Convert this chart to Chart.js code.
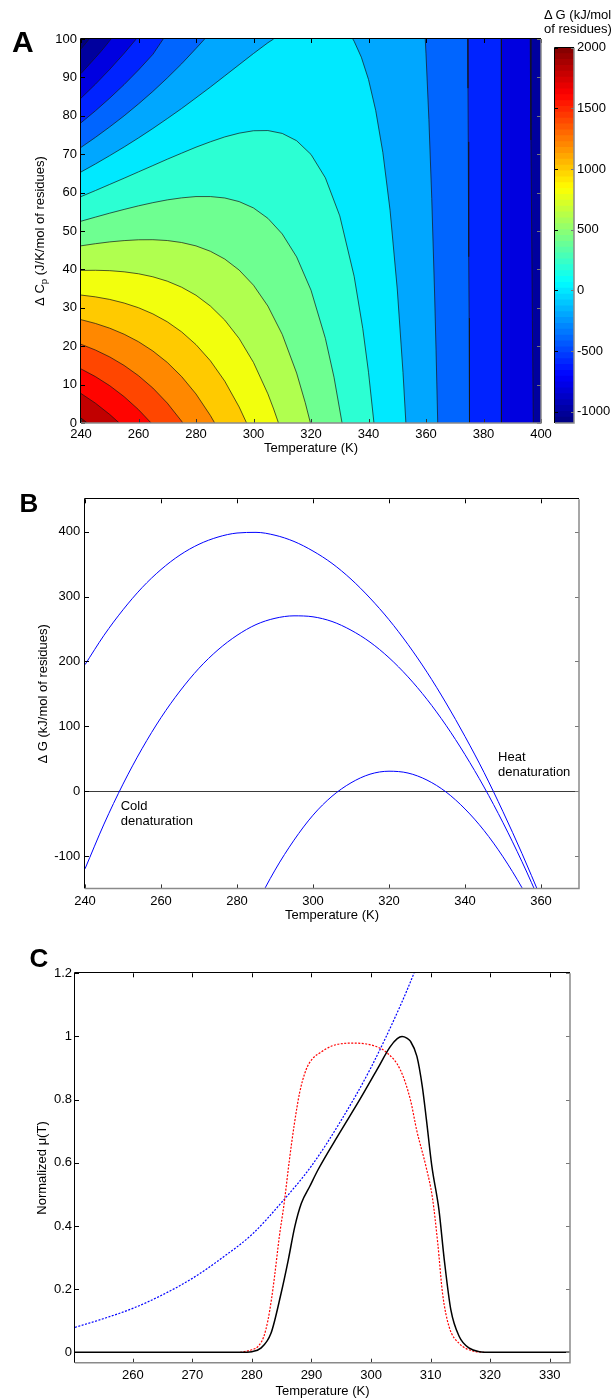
<!DOCTYPE html>
<html>
<head>
<meta charset="utf-8">
<script src="https://cdn.jsdelivr.net/npm/chart.js@4.4.1/dist/chart.umd.min.js"></script>
<style>
  body { margin: 0; background: #fff; }
  #page { position: relative; width: 614px; height: 1399px; overflow: hidden; background: #fff; }
  canvas { position: absolute; }
  .cbtitle { position: absolute; left: 544px; top: 8px; font: 13px 'Liberation Sans', Arial, sans-serif; line-height: 14px; color: #000; white-space: nowrap; }
</style>
</head>
<body>
<div id="page">
  <canvas id="cvA" width="614" height="460" style="left:0px;top:0px"></canvas>
  <canvas id="cvCb" width="69" height="460" style="left:545px;top:0px"></canvas>
  <canvas id="cvB" width="614" height="460" style="left:0px;top:470px"></canvas>
  <canvas id="cvC" width="614" height="464" style="left:0px;top:935px"></canvas>
  <div class="cbtitle">Δ G (kJ/mol<br>of residues)</div>
</div>
<script>
// ---- panel A : contour levels (kJ/mol) and their contour lines [T, dCp] ----
var aTempRange = [240, 400];
var aCpRange = [0, 100];
var aColorRange = [-1093, 2000];
var aTempTicks = [240, 260, 280, 300, 320, 340, 360, 380, 400];
var aCpTicks = [0, 10, 20, 30, 40, 50, 60, 70, 80, 90, 100];
var aColorTicks = [-1000, -500, 0, 500, 1000, 1500, 2000];
var aLevels = [-1000, -800, -600, -400, -200, 0, 200, 400, 600, 800, 1000, 1200, 1400, 1600, 1800, 2000];
// piece starting on the left edge
var aContourLeft = [
  [[240,97.42],[241,98.33],[242,99.23],[242.85,100]],
  [[240,91.01],[245,95.14],[247,96.83],[249,98.64],[250,99.59],[250.45,100]],
  [[240,84.6],[245,88.21],[250,92.1],[255,96.26],[259.2,100]],
  [[240,78.19],[245,81.29],[250,84.61],[255,88.13],[260,91.93],[265,96.01],[268.6,100]],
  [[240,71.78],[245,74.37],[250,77.12],[255,80],[260,83.09],[265,86.35],[270,89.85],[275,93.54],[280,97.54],[283,100]],
  [[240,65.37],[245,67.45],[250,69.63],[255,71.88],[260,74.24],[265,76.7],[270,79.27],[275,81.9],[280,84.68],[285,87.48],[290,90.39],[295,93.31],[300,96.22],[305,99.02],[307,100]],
  [[240,58.96],[245,60.53],[250,62.14],[255,63.75],[260,65.4],[265,67.04],[270,68.69],[275,70.27],[280,71.83],[285,73.23],[290,74.5],[295,75.48],[300,76.11],[305,76.16],[310,75.41],[315,73.51],[320,69.94],[325,63.84],[330,53.94],[335,38.21],[338,24.63],[340,13.21],[341.9,0]],
  [[240,52.55],[245,53.61],[250,54.65],[255,55.62],[260,56.55],[265,57.38],[270,58.1],[275,58.63],[280,58.97],[285,58.97],[290,58.6],[295,57.66],[300,56],[305,53.3],[310,49.23],[315,43.25],[320,34.59],[325,22.03],[328,11.92],[330.8,0]],
  [[240,46.14],[245,46.69],[250,47.16],[255,47.5],[260,47.71],[265,47.73],[270,47.52],[275,47],[280,46.12],[285,44.72],[290,42.7],[295,39.83],[300,35.88],[305,30.45],[310,23.06],[315,13],[318,5.28],[319.8,0]],
  [[240,39.73],[245,39.77],[250,39.67],[255,39.37],[260,38.86],[265,38.07],[270,36.94],[275,35.36],[280,33.27],[285,30.46],[290,26.8],[295,22.01],[300,15.76],[305,7.59],[307,3.65],[308.7,0]],
  [[240,33.32],[245,32.85],[250,32.18],[255,31.24],[260,30.02],[265,28.41],[270,26.36],[275,23.73],[280,20.41],[285,16.21],[290,10.9],[295,4.18],[297.6,0]],
  [[240,26.91],[245,25.93],[250,24.69],[255,23.12],[260,21.17],[265,18.75],[270,15.78],[275,12.09],[280,7.56],[285,1.95],[286.5,0]],
  [[240,20.5],[245,19.01],[250,17.2],[255,14.99],[260,12.32],[265,9.1],[270,5.19],[275,0.46],[275.4,0]],
  [[240,14.09],[245,12.09],[250,9.71],[255,6.86],[260,3.48],[264.4,0]],
  [[240,7.68],[245,5.17],[250,2.22],[253.3,0]],
  [[240,1.27],[241,0.7],[242.2,0]]
];
// piece coming down from the top edge on the right (negative levels)
var aContourRight = [
  null,
  [[396.25,100],[396.5,73.7],[397,26.7],[397.32,0]],
  [[386.2,100],[386.24,0]],
  [[374.51,100],[374.6,87.2],[374.7,73.2],[374.8,58.6],[374.9,43.3],[375,27.3],[375.1,10.6],[375.16,0]],
  [[359.74,100],[360,96.14],[361,79.09],[362,58.43],[363,33.33],[363.5,18.8],[364.08,0]],
  [[334.55,100],[335,99.41],[337.5,95.27],[340,89.46],[342.5,81.41],[345,70.4],[347.5,55.39],[350,34.9],[352,13.16],[353,0]],
  null, null, null, null, null, null, null, null, null, null
];

// ---- panel B : dG(T) for three curves ----
var bTempRange = [240, 370];
var bDgRange = [-150, 450];
var bTempTicks = [240, 260, 280, 300, 320, 340, 360];
var bDgTicks = [-100, 0, 100, 200, 300, 400];
var bTemps = [240,245,250,255,260,265,270,275,280,285,290,295,300,305,310,315,320,325,330,335,340,345,350,355,360];
var bCurveTop = [195,240.3,279.6,313.7,341.7,364.1,380.7,391.8,398,399,394.6,385,370.2,351.2,326.9,297.7,264.3,226.1,183.4,135.9,84.3,28.9,-31.8,-96.3,-165];
var bCurveMid = [-119.8,-50.8,10.8,65.4,113.3,154.4,189.5,217.9,240.2,256.8,266.5,270.3,268.8,261.6,248.2,229.8,205.7,176.2,141.5,101.5,56.3,6.4,-48.7,-108.9,-174];
var bTempsLow = [280,285,290,295,300,305,310,315,320,325,330,335,340,345,350,355,360];
var bCurveLow = [-240.3,-176.8,-121.8,-75.6,-37.1,-7.9,12.8,26.1,30.7,27.9,17,-1.3,-27.5,-60.7,-101.3,-149,-204.2];

// ---- panel C : normalized mu(T) ----
var cTempRange = [250.3, 333.4];
var cMuRange = [-0.033, 1.2];
var cTempTicks = [260, 270, 280, 290, 300, 310, 320, 330];
var cMuTicks = [0, 0.2, 0.4, 0.6, 0.8, 1, 1.2];
var cTempBlack = [250.3,278,280,281.5,283.2,284.9,286.1,287.2,288.3,289.7,291.1,294.7,298.1,301,303.2,304.4,305.2,306,306.6,307.7,308.6,309.3,310.2,311.4,312.3,313.4,314.8,316.5,318.2,320,333.4];
var cMuBlack = [0,0,0.002,0.013,0.06,0.187,0.292,0.398,0.472,0.525,0.578,0.694,0.8,0.895,0.967,0.993,1,0.995,0.985,0.937,0.842,0.736,0.59,0.451,0.292,0.134,0.05,0.013,0.002,0,0];
var cTempRed = [278,279,280,281,282,282.7,283.3,283.8,284.6,285.4,286.3,287.1,288,289.1,290.2,291.4,293.6,297,300.4,302.7,304.9,306.6,307.7,309.2,310.3,311.2,312,313.1,314.8,317.1,319];
var cMuRed = [0,0.003,0.008,0.018,0.05,0.102,0.17,0.24,0.366,0.47,0.61,0.72,0.821,0.895,0.93,0.948,0.971,0.979,0.971,0.948,0.895,0.8,0.7,0.59,0.49,0.345,0.187,0.081,0.028,0.004,0];
var cTempBlue = [250.3,255,260,265,270,275,280,285,290,295,300,305,307.2,310];
var cMuBlue = [0.079,0.106,0.139,0.182,0.234,0.299,0.373,0.475,0.59,0.735,0.902,1.101,1.2,1.335];

var FAM = "'Liberation Sans', Arial, Helvetica, sans-serif";
Chart.defaults.font.family = FAM;
Chart.defaults.font.size = 13;
Chart.defaults.color = '#000';

function jet(t) {
  var c = function (v) { return Math.round(255 * Math.max(0, Math.min(1, v))); };
  return 'rgb(' + c(1.5 - Math.abs(4 * t - 3)) + ',' + c(1.5 - Math.abs(4 * t - 2)) + ',' + c(1.5 - Math.abs(4 * t - 1)) + ')';
}
function levelColor(v) { return jet((v - aColorRange[0]) / (aColorRange[1] - aColorRange[0])); }
function pts(arr) { return arr.map(function (p) { return {x: p[0], y: p[1]}; }); }
function zip(xs, ys) { return xs.map(function (x, i) { return {x: x, y: ys[i]}; }); }

// inner ticks + matlab-like frame
function boxPlugin(o) {
  return {
    id: 'box',
    afterDatasetsDraw: function (chart) {
      var ctx = chart.ctx, a = chart.chartArea, L = o.tickLen;
      var xs = chart.scales.x, ys = chart.scales.y;
      var snap = function (v) { return Math.round(v) + 0.5; };
      ctx.save();
      ctx.lineWidth = 1;
      if (o.xTicks) {
        xs.ticks.forEach(function (t) {
          var p = snap(xs.getPixelForValue(t.value));
          ctx.strokeStyle = '#000';
          ctx.beginPath(); ctx.moveTo(p, a.top); ctx.lineTo(p, a.top + L); ctx.stroke();
          ctx.strokeStyle = '#333';
          ctx.beginPath(); ctx.moveTo(p, a.bottom); ctx.lineTo(p, a.bottom - L); ctx.stroke();
        });
      }
      ys.ticks.forEach(function (t) {
        var p = snap(ys.getPixelForValue(t.value));
        ctx.strokeStyle = '#000';
        ctx.beginPath(); ctx.moveTo(a.left, p); ctx.lineTo(a.left + L, p); ctx.stroke();
        ctx.strokeStyle = '#777';
        ctx.beginPath(); ctx.moveTo(a.right, p); ctx.lineTo(a.right - L, p); ctx.stroke();
      });
      ctx.strokeStyle = '#8a8a8a'; ctx.lineWidth = 1.5;
      ctx.beginPath(); ctx.moveTo(a.left, a.bottom); ctx.lineTo(a.right, a.bottom); ctx.lineTo(a.right, a.top); ctx.stroke();
      ctx.strokeStyle = '#000'; ctx.lineWidth = 1;
      ctx.beginPath(); ctx.moveTo(snap(a.left) - 1, a.bottom); ctx.lineTo(snap(a.left) - 1, snap(a.top) - 1); ctx.lineTo(a.right, snap(a.top) - 1); ctx.stroke();
      ctx.restore();
    }
  };
}

// free text: panel letters, annotations (data coords when dx given)
function notesPlugin(items, extra) {
  return {
    id: 'notes',
    afterDraw: function (chart) {
      var ctx = chart.ctx;
      items.forEach(function (it) {
        ctx.save();
        ctx.font = it.font || ('13px ' + FAM);
        ctx.fillStyle = '#000';
        ctx.textAlign = it.align || 'left';
        ctx.textBaseline = it.baseline || 'middle';
        var x = it.x, y = it.y;
        if (it.dx !== undefined) {
          x = chart.scales.x.getPixelForValue(it.dx);
          y = chart.scales.y.getPixelForValue(it.dy);
        }
        ctx.fillText(it.text, x, y);
        ctx.restore();
      });
      if (extra) extra(chart);
    }
  };
}

function axis(range, tickVals, pad, size, isX, extra) {
  var o = {
    type: 'linear', min: range[0], max: range[1],
    ticks: { padding: pad, maxRotation: 0, autoSkip: false, font: { size: 13 },
      callback: function (v) { return String(v); } },
    afterBuildTicks: function (s) { s.ticks = tickVals.map(function (v) { return {value: v}; }); },
    grid: { display: false, drawTicks: false },
    border: { display: false },
    afterFit: isX ? function (s) { s.height = size; } : function (s) { s.width = size; }
  };
  for (var k in extra) o[k] = extra[k];
  return o;
}

function opts(extra) {
  var o = {
    responsive: false,
    animation: false,
    plugins: { legend: { display: false }, tooltip: { enabled: false } },
    elements: { point: { radius: 0 } }
  };
  for (var k in extra) o[k] = extra[k];
  return o;
}

// ---------------- Panel A ----------------
var aSets = [];
var T0 = aTempRange[0], T1 = aTempRange[1], C0 = aCpRange[0], C1 = aCpRange[1];
aSets.push({ data: pts([[T0, C0], [T0, C1], [T1, C1], [T1, C0]]), fill: 'shape', backgroundColor: jet(0),
  borderColor: 'rgba(0,0,0,0)', borderWidth: 0, order: 1000 });
aLevels.forEach(function (lv, i) {
  var left = aContourLeft[i], right = aContourRight[i];
  var poly = [[T0, C0]].concat(left);
  if (right) poly = poly.concat(right);
  else if (left[left.length - 1][1] === C1) poly = poly.concat([[T1, C1], [T1, C0]]);
  aSets.push({ data: pts(poly), fill: 'shape', backgroundColor: levelColor(lv),
    borderColor: 'rgba(0,0,0,0)', borderWidth: 0, order: 900 - i });
});
aLevels.forEach(function (lv, i) {
  [aContourLeft[i], aContourRight[i]].forEach(function (piece) {
    if (!piece) return;
    aSets.push({ data: pts(piece), fill: false, borderColor: '#161616', borderWidth: 0.7, order: 0 });
  });
});

function aYTitle(chart) {
  var ctx = chart.ctx;
  ctx.save();
  ctx.translate(40, 231);
  ctx.rotate(-Math.PI / 2);
  ctx.fillStyle = '#000';
  ctx.textBaseline = 'middle';
  var parts = [['Δ C', '13px ' + FAM, 0], ['p', '9.5px ' + FAM, 4], [' (J/K/mol of residues)', '13px ' + FAM, 0]];
  var total = 0;
  parts.forEach(function (p) { ctx.font = p[1]; total += ctx.measureText(p[0]).width; });
  var x = -total / 2;
  parts.forEach(function (p) { ctx.font = p[1]; ctx.fillText(p[0], x, p[2]); x += ctx.measureText(p[0]).width; });
  ctx.restore();
}

new Chart(document.getElementById('cvA'), {
  type: 'line',
  data: { datasets: aSets },
  options: opts({
    layout: { padding: { left: 0, right: 73, top: 39, bottom: 0 }, autoPadding: false },
    scales: {
      x: axis(aTempRange, aTempTicks, 3.2, 37, true, { title: { display: true, text: 'Temperature (K)', font: { size: 13 }, padding: { top: 0, bottom: 4 } } }),
      y: axis(aCpRange, aCpTicks, 4, 81, false, {})
    }
  }),
  plugins: [boxPlugin({ tickLen: 4, xTicks: true }),
    notesPlugin([{ text: 'A', x: 12, y: 51.7, font: 'bold 30px ' + FAM, baseline: 'alphabetic' }], aYTitle)]
});

// colour bar
var cbSets = [];
var nCb = 64, cbStep = (aColorRange[1] - aColorRange[0]) / nCb;
for (var k = 0; k < nCb; k++) {
  var lo = aColorRange[0] + k * cbStep;
  cbSets.push({ data: [[k ? lo - 0.4 * cbStep : lo, lo + cbStep]], backgroundColor: jet((k + 0.5) / nCb),
    borderWidth: 0, grouped: false, barPercentage: 1, categoryPercentage: 1 });
}
new Chart(document.getElementById('cvCb'), {
  type: 'bar',
  data: { labels: [''], datasets: cbSets },
  options: opts({
    layout: { padding: { left: 10, right: 0, top: 47.7, bottom: 37 }, autoPadding: false },
    scales: {
      x: { display: false },
      y: axis(aColorRange, aColorTicks, 3, 40, false, { position: 'right' })
    }
  }),
  plugins: [boxPlugin({ tickLen: 3, xTicks: false })]
});

// ---------------- Panel B ----------------
var bLine = function (xs, ys) {
  return { data: zip(xs, ys), borderColor: '#0000ff', borderWidth: 1, fill: false, cubicInterpolationMode: 'monotone' };
};
var bY = axis(bDgRange, bDgTicks, 4.7, 85, false, {
  title: { display: true, text: 'Δ G (kJ/mol of residues)', font: { size: 13 }, padding: { top: 35.7, bottom: 0 } }
});
bY.grid = { display: true, drawTicks: false, lineWidth: 1,
  color: function (c) { return c.tick && c.tick.value === 0 ? '#3a3a3a' : 'rgba(0,0,0,0)'; } };
new Chart(document.getElementById('cvB'), {
  type: 'line',
  data: { datasets: [bLine(bTemps, bCurveTop), bLine(bTemps, bCurveMid), bLine(bTempsLow, bCurveLow)] },
  options: opts({
    layout: { padding: { left: 0, right: 35, top: 29.3, bottom: 0 }, autoPadding: false },
    scales: {
      x: axis(bTempRange, bTempTicks, 5.2, 41.6, true, { title: { display: true, text: 'Temperature (K)', font: { size: 13 }, padding: { top: 0, bottom: 7.2 } } }),
      y: bY
    }
  }),
  plugins: [boxPlugin({ tickLen: 4, xTicks: true }),
    notesPlugin([
      { text: 'B', x: 19.6, y: 42.3, font: 'bold 26px ' + FAM, baseline: 'alphabetic' },
      { text: 'Heat', dx: 348.7, dy: 51.3 },
      { text: 'denaturation', dx: 348.7, dy: 28.2 },
      { text: 'Cold', dx: 249.4, dy: -23.7 },
      { text: 'denaturation', dx: 249.4, dy: -46.9 }
    ])]
});

// ---------------- Panel C ----------------
new Chart(document.getElementById('cvC'), {
  type: 'line',
  data: { datasets: [
    { data: zip(cTempBlack, cMuBlack), borderColor: '#000', borderWidth: 1.5, fill: false, cubicInterpolationMode: 'monotone', order: 0 },
    { data: zip(cTempRed, cMuRed), borderColor: '#ff0000', borderWidth: 1.2, borderDash: [2, 1.5], fill: false, cubicInterpolationMode: 'monotone', order: 1 },
    { data: zip(cTempBlue, cMuBlue), borderColor: '#0000ff', borderWidth: 1.2, borderDash: [2, 1.5], fill: false, cubicInterpolationMode: 'monotone', order: 2 }
  ] },
  options: opts({
    layout: { padding: { left: 0, right: 44, top: 38.3, bottom: 0 }, autoPadding: false },
    scales: {
      x: axis(cTempRange, cTempTicks, 4.5, 36.3, true, { title: { display: true, text: 'Temperature (K)', font: { size: 13 }, padding: { top: 0, bottom: 0.2 } } }),
      y: axis(cMuRange, cMuTicks, 3, 75, false, {
        title: { display: true, text: 'Normalized μ(T)', font: { size: 13 }, padding: { top: 34.2, bottom: 0 } }
      })
    }
  }),
  plugins: [boxPlugin({ tickLen: 4, xTicks: true }),
    notesPlugin([{ text: 'C', x: 29.4, y: 31.7, font: 'bold 26px ' + FAM, baseline: 'alphabetic' }])]
});
</script>
</body>
</html>
